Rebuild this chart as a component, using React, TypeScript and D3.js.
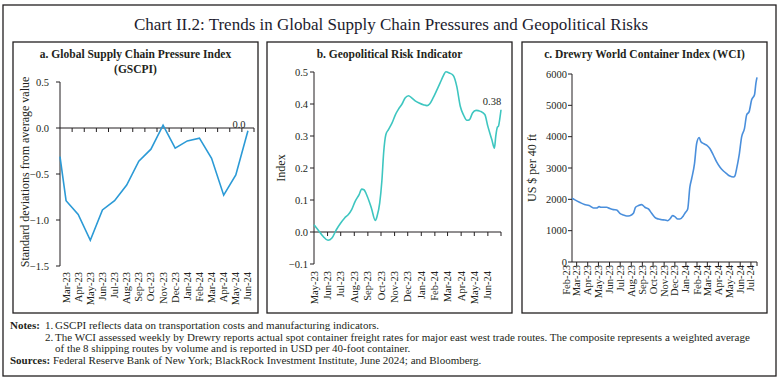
import React from 'react';
import * as d3 from 'd3';

const W = 782;
const H = 385;
const FONT = '"Liberation Serif", "Times New Roman", serif';
const INK = '#231f20';

// a. GSCPI (monthly, standard deviations from average)
const gscpiMonths = ['Mar-23', 'Apr-23', 'May-23', 'Jun-23', 'Jul-23', 'Aug-23', 'Sep-23', 'Oct-23',
  'Nov-23', 'Dec-23', 'Jan-24', 'Feb-24', 'Mar-24', 'Apr-24', 'May-24', 'Jun-24'];
const gscpiValues = [-0.79, -0.94, -1.22, -0.89, -0.79, -0.62, -0.36, -0.23,
  0.03, -0.22, -0.14, -0.11, -0.33, -0.73, -0.51, -0.03];
const gscpiLead = -0.31; // value where the line meets the y-axis
const gscpiTicks = [0.5, 0, -0.5, -1, -1.5];

// b. Geopolitical risk indicator
const gprDates = ['2023-05-01', '2023-05-10', '2023-05-22', '2023-06-02', '2023-06-11', '2023-06-21',
  '2023-07-01', '2023-07-10', '2023-07-18', '2023-07-26', '2023-08-03', '2023-08-12', '2023-08-18',
  '2023-08-23', '2023-08-31', '2023-09-09', '2023-09-18', '2023-09-22', '2023-09-28', '2023-10-03',
  '2023-10-07', '2023-10-12', '2023-10-18', '2023-10-26', '2023-11-03', '2023-11-10', '2023-11-18',
  '2023-11-25', '2023-12-03', '2023-12-10', '2023-12-18', '2023-12-27', '2024-01-07', '2024-01-14',
  '2024-01-20', '2024-01-28', '2024-02-06', '2024-02-13', '2024-02-21', '2024-02-26', '2024-03-05',
  '2024-03-14', '2024-03-22', '2024-03-30', '2024-04-07', '2024-04-14', '2024-04-20', '2024-04-27',
  '2024-05-05', '2024-05-15', '2024-05-25', '2024-06-01', '2024-06-10', '2024-06-16', '2024-06-19',
  '2024-06-23', '2024-06-25', '2024-06-29', '2024-07-01'];
const gprValues = [0.023, 0.007, -0.014, -0.026, -0.019, 0.007,
  0.028, 0.044, 0.054, 0.07, 0.096, 0.117, 0.134,
  0.132, 0.11, 0.075, 0.036, 0.049, 0.09, 0.16,
  0.247, 0.304, 0.32, 0.34, 0.367, 0.384, 0.40,
  0.419, 0.426, 0.419, 0.41, 0.403, 0.397, 0.395,
  0.40, 0.419, 0.445, 0.466, 0.49, 0.501, 0.497,
  0.489, 0.455, 0.393, 0.364, 0.349, 0.351, 0.372,
  0.38, 0.377, 0.367, 0.33, 0.289, 0.262, 0.299,
  0.328, 0.33, 0.361, 0.382];
const gprTicks = [0.5, 0.4, 0.3, 0.2, 0.1, 0, -0.1];

// c. Drewry WCI (US $ per 40 ft)
const wciDates = ['2023-02-16', '2023-02-23', '2023-03-09', '2023-03-23', '2023-04-05', '2023-04-17',
  '2023-04-26', '2023-05-03', '2023-05-08', '2023-05-15', '2023-05-24', '2023-06-02', '2023-06-12',
  '2023-06-21', '2023-06-30', '2023-07-10', '2023-07-19', '2023-07-28', '2023-08-07', '2023-08-13',
  '2023-08-21', '2023-08-30', '2023-09-08', '2023-09-18', '2023-09-27', '2023-10-06', '2023-10-16',
  '2023-10-25', '2023-11-03', '2023-11-11', '2023-11-17', '2023-11-25', '2023-12-01', '2023-12-09',
  '2023-12-15', '2023-12-25', '2023-12-31', '2024-01-06', '2024-01-12', '2024-01-17', '2024-01-25',
  '2024-01-31', '2024-02-07', '2024-02-12', '2024-02-19', '2024-02-28', '2024-03-08', '2024-03-18',
  '2024-03-27', '2024-04-05', '2024-04-15', '2024-04-24', '2024-05-03', '2024-05-13', '2024-05-17',
  '2024-05-22', '2024-05-29', '2024-06-05', '2024-06-13', '2024-06-19', '2024-06-26', '2024-07-03',
  '2024-07-11', '2024-07-15', '2024-07-18'];
const wciValues = [2036, 1990, 1907, 1832, 1800, 1725,
  1725, 1768, 1746, 1746, 1746, 1704, 1671,
  1661, 1554, 1500, 1468, 1479, 1554, 1746,
  1800, 1832, 1746, 1693, 1554, 1425, 1371,
  1350, 1339, 1318, 1371, 1479, 1446, 1371,
  1371, 1479, 1586, 1693, 2389, 2657, 3139,
  3782, 3975, 3836, 3782, 3729, 3621, 3407,
  3193, 3032, 2904, 2818, 2743, 2711, 2743,
  2979, 3407, 3996, 4264, 4693, 4800, 5175,
  5336, 5711, 5893];
const wciTicks = [0, 1000, 2000, 3000, 4000, 5000, 6000];

const parse = d3.timeParse('%Y-%m-%d');
const monthLabel = d3.timeFormat('%b-%y');

const notes = [
  { lead: 'Notes:', num: '1.', text: 'GSCPI reflects data on transportation costs and manufacturing indicators.' },
  { lead: '', num: '2.', text: 'The WCI assessed weekly by Drewry reports actual spot container freight rates for major east west trade routes. The composite represents a weighted average' },
  { lead: '', num: '', text: 'of the 8 shipping routes by volume and is reported in USD per 40-foot container.' },
];
const sources = 'Federal Reserve Bank of New York; BlackRock Investment Institute, June 2024; and Bloomberg.';

const Frame = ({ x0, x1 }) => (
  <rect x={x0} y={42} width={x1 - x0} height={271} fill="none" stroke={INK} strokeWidth={1.3} />
);

const YAxis = ({ x, y, ticks, fmt, pad }) => (
  <g>
    <line x1={x} x2={x} y1={y.range()[0]} y2={y.range()[1]} stroke={INK} strokeWidth={1} />
    {ticks.map(t => (
      <g key={t}>
        <line x1={x - 4} x2={x} y1={y(t)} y2={y(t)} stroke={INK} />
        <text x={x - pad} y={y(t)} dy="0.35em" textAnchor="end" fontSize={10.5} fill={INK}>{fmt(t)}</text>
      </g>
    ))}
  </g>
);

const XLabels = ({ items, top }) => (
  <g>
    {items.map(d => (
      <text key={d.label} transform={`translate(${d.x + 3.5},${top}) rotate(-90)`} textAnchor="end"
        fontSize={10.5} fill={INK}>{d.label}</text>
    ))}
  </g>
);

const PanelA = () => {
  const x = d3.scaleBand().domain(gscpiMonths).range([60, 254]);
  const y = d3.scaleLinear().domain([-1.5, 0.5]).range([266, 82]);
  const bw = x.bandwidth();
  const pts: [number, number][] = [[x.range()[0], y(gscpiLead)],
    ...gscpiMonths.map((m, i) => [x(m) + bw / 2, y(gscpiValues[i])] as [number, number])];
  const line = d3.line();
  const last = gscpiValues[gscpiValues.length - 1];
  return (
    <g>
      <Frame x0={13} x1={258} />
      <text x={135.5} y={58} textAnchor="middle" fontSize={11.5} fontWeight="bold" fill={INK}>a. Global Supply Chain Pressure Index</text>
      <text x={135.5} y={72.5} textAnchor="middle" fontSize={11.5} fontWeight="bold" fill={INK}>(GSCPI)</text>
      <text transform={`translate(29,172) rotate(-90)`} textAnchor="middle" fontSize={12} fill={INK}>Standard deviations from average value</text>
      <YAxis x={60} y={y} ticks={gscpiTicks} fmt={d3.format('.1f')} pad={11} />
      <line x1={60} x2={254} y1={y(0)} y2={y(0)} stroke={INK} />
      {gscpiMonths.map(m => (
        <line key={m} x1={x(m) + bw} x2={x(m) + bw} y1={y(0)} y2={y(0) + 4} stroke={INK} />
      ))}
      <XLabels items={gscpiMonths.map(m => ({ label: m, x: x(m) + bw / 2 }))} top={272} />
      <path d={line(pts)} fill="none" stroke="#2b9ad6" strokeWidth={1.6} />
      <text x={x(gscpiMonths[gscpiMonths.length - 1]) + bw / 2 - 9} y={y(last) - 3} textAnchor="middle" fontSize={10.5} fill={INK}>{d3.format('.1f')(Math.abs(last) < 0.05 ? 0 : last)}</text>
    </g>
  );
};

const PanelB = () => {
  const x = d3.scaleTime().domain([new Date(2023, 4, 1), new Date(2024, 6, 1)]).range([314, 501]);
  const y = d3.scaleLinear().domain([-0.1, 0.5]).range([264, 72]);
  const months = d3.timeMonth.range(new Date(2023, 4, 1), new Date(2024, 6, 2));
  const line = d3.line<number>()
    .x((_, i) => x(parse(gprDates[i])))
    .y(v => y(v))
    .curve(d3.curveMonotoneX);
  const last = gprValues[gprValues.length - 1];
  return (
    <g>
      <Frame x0={267} x1={512} />
      <text x={389.5} y={58} textAnchor="middle" fontSize={11.5} fontWeight="bold" fill={INK}>b. Geopolitical Risk Indicator</text>
      <text transform={`translate(285,168) rotate(-90)`} textAnchor="middle" fontSize={12} fill={INK}>Index</text>
      <YAxis x={314} y={y} ticks={gprTicks} fmt={d3.format('.1f')} pad={6} />
      <line x1={314} x2={501} y1={y(0)} y2={y(0)} stroke={INK} />
      {months.slice(1).map(m => (
        <line key={+m} x1={x(m)} x2={x(m)} y1={y(0)} y2={y(0) + 4} stroke={INK} />
      ))}
      <XLabels items={months.slice(0, -1).map(m => ({ label: monthLabel(m), x: x(m) }))} top={271} />
      <path d={line(gprValues)} fill="none" stroke="#3ec6c0" strokeWidth={1.6} />
      <text x={492} y={104.5} textAnchor="middle" fontSize={10.5} fill={INK}>{d3.format('.2f')(last)}</text>
    </g>
  );
};

const PanelC = () => {
  const x = d3.scaleTime().domain([parse(wciDates[0]), parse(wciDates[wciDates.length - 1])]).range([572, 757]);
  const y = d3.scaleLinear().domain([0, 6000]).range([262, 74]);
  const months = d3.timeMonth.range(new Date(2023, 1, 1), new Date(2024, 6, 2));
  const line = d3.line<number>()
    .x((_, i) => x(parse(wciDates[i])))
    .y(v => y(v))
    .curve(d3.curveMonotoneX);
  return (
    <g>
      <Frame x0={522} x1={767} />
      <text x={644.5} y={58} textAnchor="middle" fontSize={11.5} fontWeight="bold" fill={INK}>c. Drewry World Container Index (WCI)</text>
      <text transform={`translate(536,168) rotate(-90)`} textAnchor="middle" fontSize={12} fill={INK}>US $ per 40 ft</text>
      <YAxis x={572} y={y} ticks={wciTicks} fmt={d3.format('d')} pad={5} />
      <line x1={572} x2={757} y1={y(0)} y2={y(0)} stroke={INK} />
      {months.slice(1).map(m => (
        <line key={+m} x1={x(m)} x2={x(m)} y1={y(0)} y2={y(0) + 4} stroke={INK} />
      ))}
      <line x1={757} x2={757} y1={y(0)} y2={y(0) + 4} stroke={INK} />
      <XLabels items={months.map(m => ({ label: monthLabel(m), x: x(m) }))} top={265} />
      <path d={line(wciValues)} fill="none" stroke="#4a8fdc" strokeWidth={1.6} />
    </g>
  );
};

export default function App() {
  return (
    <svg width={W} height={H} style={{ position: 'absolute', left: 0, top: 0, background: '#fff' }}
      fontFamily={FONT}>
      <rect x={3} y={5} width={773} height={371} fill="#fff" stroke={INK} strokeWidth={1.3} />
      <text x={391} y={30} textAnchor="middle" fontSize={17} fill="#1c1c2e">Chart II.2: Trends in Global Supply Chain Pressures and Geopolitical Risks</text>
      <PanelA />
      <PanelB />
      <PanelC />
      <g fontSize={11} fill={INK}>
        {notes.map((n, i) => (
          <g key={i}>
            {n.lead && <text x={10} y={329 + i * 11.7} fontWeight="bold">{n.lead}</text>}
            {n.num && <text x={45} y={329 + i * 11.7}>{n.num}</text>}
            <text x={55} y={329 + i * 11.7}>{n.text}</text>
          </g>
        ))}
        <text x={10} y={364}><tspan fontWeight="bold">Sources:</tspan> {sources}</text>
      </g>
    </svg>
  );
}
